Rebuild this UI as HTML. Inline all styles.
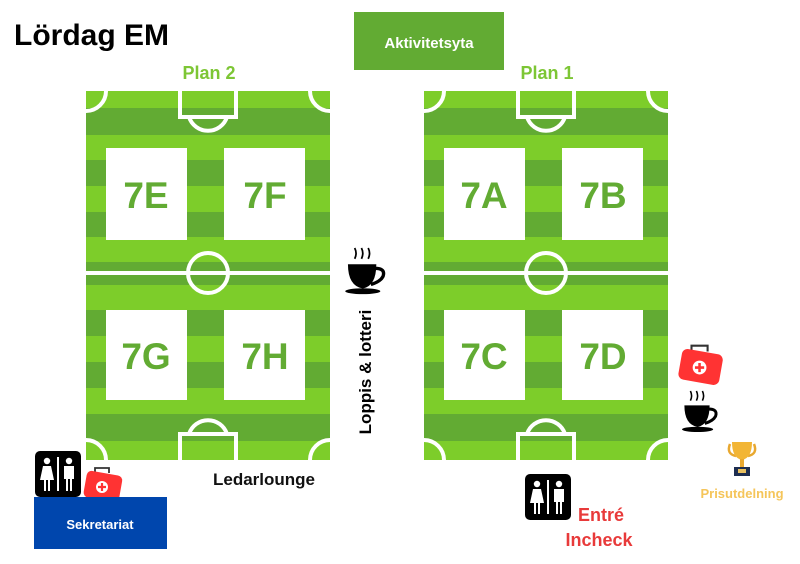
<!DOCTYPE html>
<html><head><meta charset="utf-8"><style>
html,body{margin:0;padding:0;background:#fff;width:800px;height:564px;overflow:hidden}
svg{display:block}
text{font-family:"Liberation Sans",sans-serif;font-weight:bold}
</style></head><body>
<svg width="800" height="564" viewBox="0 0 800 564" xmlns="http://www.w3.org/2000/svg">
<defs>
<clipPath id="fc"><rect x="0" y="0" width="244" height="369"/></clipPath>
<g id="field">
<g clip-path="url(#fc)">
<rect x="0" y="0" width="244" height="369" fill="#7dcd2a"/>
<g fill="#62ab33">
<rect x="0" y="17" width="244" height="27"/>
<rect x="0" y="69" width="244" height="26"/>
<rect x="0" y="121" width="244" height="25"/>
<rect x="0" y="171" width="244" height="23"/>
<rect x="0" y="219" width="244" height="26"/>
<rect x="0" y="271" width="244" height="26"/>
<rect x="0" y="323" width="244" height="27"/>
</g>
<g fill="none" stroke="#fff" stroke-width="4">
<circle cx="0" cy="0" r="20"/><circle cx="244" cy="0" r="20"/>
<circle cx="0" cy="369" r="20"/><circle cx="244" cy="369" r="20"/>
<path d="M103 26 A20 20 0 0 0 141 26"/>
<rect x="94" y="-4" width="56" height="30"/>
<path d="M103 343 A20 20 0 0 1 141 343"/>
<rect x="94" y="343" width="56" height="30"/>
<line x1="-2" y1="182" x2="246" y2="182"/>
<circle cx="122" cy="182" r="20"/>
</g>
</g>
<rect x="20" y="57" width="81" height="92" fill="#fff"/>
<rect x="138" y="57" width="81" height="92" fill="#fff"/>
<rect x="20" y="219" width="81" height="90" fill="#fff"/>
<rect x="138" y="219" width="81" height="90" fill="#fff"/>
</g>
<g id="cup">
<path d="M2 8 Q4 4 2 0 M7 8 Q9 4 7 0 M12 8 Q14 4 12 0" stroke="#000" stroke-width="1.3" fill="none"/>
<path d="M-3 12 H18 Q18 28 8 30 Q-3 28 -3 12Z" fill="#000"/>
<path d="M17 15 Q25 15 23 21 Q21 25 14 27" stroke="#000" stroke-width="2.5" fill="none"/>
<ellipse cx="8" cy="32" rx="13" ry="2.2" fill="#000"/>
</g>
<g id="wc">
<rect x="0" y="0" width="46" height="46" rx="5" fill="#000"/>
<rect x="22" y="6" width="2" height="34" fill="#fff"/>
<circle cx="12" cy="10" r="3.2" fill="#fff"/>
<path d="M8 15 H16 L19 29 H15 V40 H13 V29 H11 V40 H9 V29 H5Z" fill="#fff"/>
<circle cx="34" cy="10" r="3.2" fill="#fff"/>
<path d="M29 15 H39 V28 H37 V40 H35 V28 H33 V40 H31 V28 H29Z" fill="#fff"/>
</g>
<g id="kit">
<path d="M10 3 V-2 H24 V3" stroke="#333" stroke-width="1.8" fill="none"/>
<rect x="0" y="3" width="36" height="27" rx="5" fill="#f33" transform="rotate(10 18 16)"/>
<circle cx="17" cy="17" r="6" fill="#fff"/>
<path d="M17 13 V21 M13 17 H21" stroke="#f33" stroke-width="2.2"/>
</g>
</defs>

<text x="14" y="45" font-size="30" fill="#000">Lördag EM</text>
<rect x="354" y="12" width="150" height="58" fill="#62ab33"/>
<text x="429" y="48" font-size="15" fill="#fff" text-anchor="middle">Aktivitetsyta</text>
<text x="209" y="79" font-size="18" fill="#7dc635" text-anchor="middle">Plan 2</text>
<text x="547" y="79" font-size="18" fill="#7dc635" text-anchor="middle">Plan 1</text>

<use href="#field" x="86" y="91"/>
<use href="#field" x="424" y="91"/>

<g font-size="37" fill="#62ab33" text-anchor="middle">
<text x="146" y="208">7E</text><text x="265" y="208">7F</text>
<text x="146" y="369">7G</text><text x="265" y="369">7H</text>
<text x="484" y="208">7A</text><text x="603" y="208">7B</text>
<text x="484" y="369">7C</text><text x="603" y="369">7D</text>
</g>

<use href="#cup" transform="translate(352 248) scale(1.35)"/>
<text transform="translate(371 372) rotate(-90)" font-size="17" fill="#000" text-anchor="middle">Loppis &amp; lotteri</text>

<text x="264" y="485" font-size="17" fill="#111" text-anchor="middle">Ledarlounge</text>

<use href="#wc" x="35" y="451"/>
<use href="#kit" transform="translate(85 470) scale(1.0)"/>
<rect x="34" y="497" width="133" height="52" fill="#0046ad"/>
<text x="100" y="529" font-size="13" fill="#fff" text-anchor="middle">Sekretariat</text>

<use href="#kit" transform="translate(680 348) scale(1.15)"/>
<use href="#cup" transform="translate(688 391) scale(1.2)"/>
<g transform="translate(742 440)">
<path d="M-12 4 Q-16 14 -6 16 M12 4 Q16 14 6 16" stroke="#e8a830" stroke-width="2.5" fill="none"/>
<path d="M-10 2 H10 Q10 18 0 20 Q-10 18 -10 2Z" fill="#f2b535"/>
<rect x="-2" y="19" width="4" height="8" fill="#e8a830"/>
<rect x="-8" y="27" width="16" height="9" fill="#1d2d50"/>
<rect x="-4" y="29" width="8" height="4" fill="#e8c060"/>
</g>
<text x="742" y="498" font-size="13" fill="#f5c55a" text-anchor="middle">Prisutdelning</text>

<use href="#wc" x="525" y="474"/>
<text x="601" y="521" font-size="18" fill="#e83a3a" text-anchor="middle">Entré</text>
<text x="599" y="546" font-size="18" fill="#e83a3a" text-anchor="middle">Incheck</text>
</svg>
</body></html>
